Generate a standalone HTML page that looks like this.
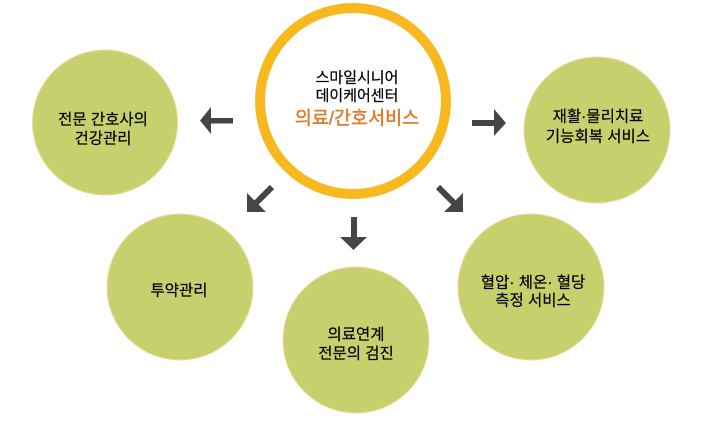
<!DOCTYPE html>
<html>
<head>
<meta charset="utf-8">
<style>
  html, body { margin: 0; padding: 0; background: #ffffff; }
  body { width: 706px; height: 443px; overflow: hidden; }
  svg { display: block; }
  text { font-family: "Liberation Sans", "Noto Sans CJK KR", "NanumGothic", sans-serif; }
</style>
</head>
<body>
<svg width="706" height="443" viewBox="0 0 706 443" xmlns="http://www.w3.org/2000/svg">
  <rect width="706" height="443" fill="#ffffff"/>

  <!-- green circles -->
  <g fill="#C6D06C" stroke="#EDD89A" stroke-width="1">
    <circle cx="105" cy="122.5" r="72.5"/>
    <circle cx="597" cy="130" r="73"/>
    <circle cx="180" cy="287" r="73"/>
    <circle cx="356" cy="340" r="73"/>
    <circle cx="531" cy="287" r="73"/>
  </g>

  <!-- center ring -->
  <circle cx="353" cy="101" r="93" fill="#ffffff" stroke="#F7B91F" stroke-width="10"/>

  <!-- arrows -->
  <g fill="#454545">
    <polygon points="200,120.5 211,107 211,118 233,118 233,123.5 211,123.5 211,134"/>
    <polygon points="506,123 494,109 494,120 472,120 472,126 494,126 494,136"/>
    <polygon points="353.5,250 340,237 351,237 351,217 357,217 357,237 367,237"/>
    <polygon points="247,212 247,193 254.4,200.4 269.9,184.9 274.1,189.1 258.6,204.6 266,212"/>
    <polygon points="463,212 463,193 455.6,200.4 440.1,184.9 435.9,189.1 451.4,204.6 444,212"/>
  </g>

  <!-- center text -->
  <g text-anchor="middle" dominant-baseline="central">
    <text x="357" y="78" font-size="15" fill="#000000" stroke="#000000" stroke-width="0.2">스마일시니어</text>
    <text x="357" y="96" font-size="15" fill="#000000" stroke="#000000" stroke-width="0.2">데이케어센터</text>
    <text x="357" y="118" font-size="18.5" fill="#E07B2A" stroke="#E07B2A" stroke-width="0.45">의료/간호서비스</text>
  </g>

  <!-- node texts -->
  <g text-anchor="middle" dominant-baseline="central" font-size="15.5" fill="#000000" stroke="#000000" stroke-width="0.2">
    <text x="103" y="120">전문 간호사의</text>
    <text x="103" y="139">건강관리</text>

    <text x="598" y="117">재활·물리치료</text>
    <text x="598" y="137">기능회복 서비스</text>

    <text x="179" y="291">투약관리</text>

    <text x="356" y="335">의료연계</text>
    <text x="356" y="354">전문의 검진</text>

    <text x="533" y="283">혈압· 체온· 혈당</text>
    <text x="533" y="301">측정 서비스</text>
  </g>
</svg>
</body>
</html>
